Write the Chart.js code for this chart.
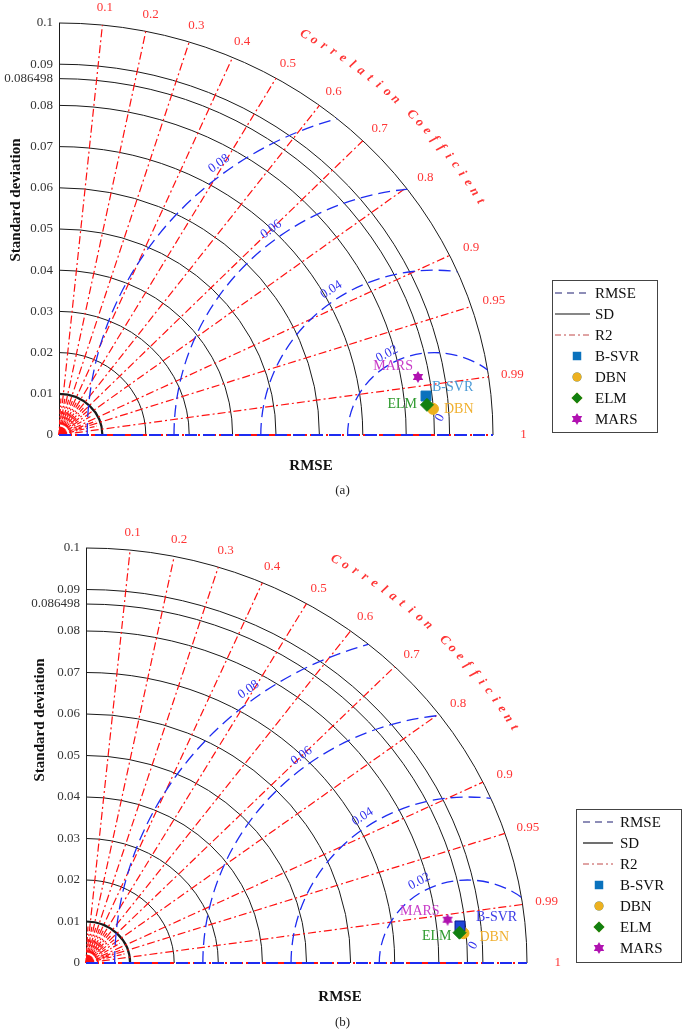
<!DOCTYPE html>
<html>
<head>
<meta charset="utf-8">
<script src="https://cdn.jsdelivr.net/npm/chart.js@4.4.1/dist/chart.umd.min.js"></script>
<style>
  body { margin: 0; background: #fff; width: 685px; height: 1036px; position: relative; overflow: hidden; }
  canvas { position: absolute; left: 0; }
  .cap { position: absolute; left: 0; width: 685px; text-align: center; font: 13px "Liberation Serif", serif; color: #222; }
</style>
</head>
<body>
<canvas id="taylorA" width="685" height="500" style="top:0"></canvas>
<div class="cap" style="top:482px">(a)</div>
<canvas id="taylorB" width="685" height="536" style="top:500px"></canvas>
<div class="cap" style="top:1014px">(b)</div>
<script>
// ---- data ----
const refSD = 0.086498;
const sdLevels = [0.01, 0.02, 0.03, 0.04, 0.05, 0.06, 0.07, 0.08, 0.09, 0.1, refSD];
const yTickValues = [0, 0.01, 0.02, 0.03, 0.04, 0.05, 0.06, 0.07, 0.08, 0.086498, 0.09, 0.1];
const yTickLabels = ['0', '0.01', '0.02', '0.03', '0.04', '0.05', '0.06', '0.07', '0.08', '0.086498', '0.09', '0.1'];
const corrLines = [0.1, 0.2, 0.3, 0.4, 0.5, 0.6, 0.7, 0.8, 0.9, 0.95, 0.99];
const corrLabelValues = [0.1, 0.2, 0.3, 0.4, 0.5, 0.6, 0.7, 0.8, 0.9, 0.95, 0.99, 1];
const corrLabels = ['0.1', '0.2', '0.3', '0.4', '0.5', '0.6', '0.7', '0.8', '0.9', '0.95', '0.99', '1'];
const minorCorr = [0.05, 0.15, 0.25, 0.35, 0.45, 0.55, 0.65, 0.75, 0.85, 0.93, 0.97];
const rmseLevels = [0.02, 0.04, 0.06, 0.08];
const rmseLabels = ['0.02', '0.04', '0.06', '0.08'];
const models = ['B-SVR', 'DBN', 'ELM', 'MARS'];
// panel (a)
const sdA = [0.08509, 0.08641, 0.08510, 0.08391];
const corrA = [0.9938, 0.9973, 0.9963, 0.9858];
// panel (b)
const sdB = [0.08527, 0.08590, 0.08501, 0.08266];
const corrB = [0.9945, 0.9965, 0.9963, 0.9920];

const serif = '"Liberation Serif", "Times New Roman", serif';
const DEG = Math.PI / 180;

function hexagram(color, size) {
  const c = document.createElement('canvas');
  c.width = c.height = size;
  const g = c.getContext('2d');
  const r = size / 2;
  g.fillStyle = color;
  [0, Math.PI].forEach(off => {
    g.beginPath();
    for (let k = 0; k < 3; k++) {
      const a = off - Math.PI / 2 + k * 2 * Math.PI / 3;
      g.lineTo(r + r * Math.cos(a), r + r * Math.sin(a));
    }
    g.closePath();
    g.fill();
  });
  return c;
}

const styles = {
  'B-SVR': { shape: 'rect', radius: 7, order: 2 },
  'DBN': { shape: 'circle', radius: 5.5, order: 3, color: '#edb120' },
  'ELM': { shape: 'rectRot', radius: 6.5, order: 0, color: '#118011' },
  'MARS': { shape: 'star', radius: 6, order: 1, color: '#b012b0' }
};

function drawMarker(ctx, name, x, y, color) {
  const st = styles[name];
  if (st.shape === 'star') {
    ctx.drawImage(hexagram(color, 12), x - 6, y - 6);
    return;
  }
  Chart.helpers.drawPoint(ctx, { pointStyle: st.shape, radius: st.radius - 1, rotation: 0, borderWidth: 0 }, x, y);
  ctx.fillStyle = color;
  ctx.fill();
}

function taylorPlugin(P) {
  return {
    id: 'taylor',
    beforeDatasetsDraw(chart) {
      const { ctx, scales: { x, y } } = chart;
      const ox = x.getPixelForValue(0), oy = y.getPixelForValue(0);
      const rx = v => x.getPixelForValue(v) - ox;
      const ry = v => oy - y.getPixelForValue(v);
      const pt = (r, c) => [x.getPixelForValue(r * c), y.getPixelForValue(r * Math.sqrt(1 - c * c))];
      ctx.save();
      // SD arcs
      ctx.strokeStyle = '#1a1a1a';
      sdLevels.forEach(s => {
        ctx.lineWidth = s === 0.01 ? 2.2 : 1;
        ctx.beginPath();
        ctx.ellipse(ox, oy, rx(s), ry(s), 0, 1.5 * Math.PI, 2 * Math.PI);
        ctx.stroke();
      });
      // correlation rays
      ctx.strokeStyle = '#ff1010';
      ctx.lineWidth = 1.2;
      ctx.setLineDash([5, 2, 1.5, 2]);
      minorCorr.forEach(c => {
        const p = pt(0.009, c);
        ctx.beginPath(); ctx.moveTo(ox, oy); ctx.lineTo(p[0], p[1]); ctx.stroke();
      });
      ctx.setLineDash([8, 3, 2, 3]);
      corrLines.forEach(c => {
        const p = pt(0.1, c);
        ctx.beginPath(); ctx.moveTo(ox, oy); ctx.lineTo(p[0], p[1]); ctx.stroke();
      });
      ctx.setLineDash([]);
      ctx.fillStyle = '#ff1010';
      ctx.beginPath();
      ctx.moveTo(ox, oy);
      ctx.ellipse(ox, oy, rx(0.0018), ry(0.0018), 0, 1.5 * Math.PI, 2 * Math.PI);
      ctx.closePath();
      ctx.fill();
      // RMSE arcs, clipped to the outer SD circle
      ctx.save();
      ctx.beginPath();
      ctx.moveTo(ox, oy);
      ctx.ellipse(ox, oy, rx(0.1), ry(0.1), 0, 1.5 * Math.PI, 2 * Math.PI);
      ctx.closePath();
      ctx.clip();
      const cx = x.getPixelForValue(refSD);
      ctx.strokeStyle = '#1e2cf0';
      ctx.lineWidth = 1.3;
      ctx.setLineDash([12, 6]);
      rmseLevels.forEach(r => {
        ctx.beginPath();
        ctx.ellipse(cx, oy, rx(r), ry(r), 0, Math.PI, 2 * Math.PI);
        ctx.stroke();
      });
      ctx.restore();
      // bottom axis: R2 = 1 line and dashed blue
      const ex = x.getPixelForValue(0.1);
      ctx.lineWidth = 2;
      ctx.strokeStyle = '#ff1010';
      ctx.setLineDash([8, 3, 2, 3]);
      ctx.beginPath(); ctx.moveTo(ox, oy); ctx.lineTo(ex, oy); ctx.stroke();
      ctx.strokeStyle = '#1e2cf0';
      ctx.setLineDash([12, 6]);
      ctx.beginPath(); ctx.moveTo(ox, oy); ctx.lineTo(ex, oy); ctx.stroke();
      ctx.restore();
    },
    afterDraw(chart) {
      const { ctx, scales: { x, y } } = chart;
      const ox = x.getPixelForValue(0), oy = y.getPixelForValue(0);
      const sx = x.getPixelForValue(1) - ox, sy = oy - y.getPixelForValue(1);
      ctx.save();
      ctx.textAlign = 'center';
      ctx.textBaseline = 'middle';
      // correlation labels
      ctx.fillStyle = '#ff3535';
      ctx.font = '13px ' + serif;
      corrLabelValues.forEach((c, i) => {
        const rX = c === 1 ? 0.107 : 0.1055, rY = 0.1042;
        ctx.fillText(corrLabels[i], ox + rX * c * sx, oy - rY * Math.sqrt(1 - c * c) * sy);
      });
      // curved title
      ctx.font = 'italic bold 13px ' + serif;
      const title = 'Correlation Coefficient';
      for (let i = 0; i < title.length; i++) {
        const th = (59.8 - i * 1.34) * DEG;
        const px = ox + 0.1125 * Math.cos(th) * sx, py = oy - 0.1125 * Math.sin(th) * sy;
        ctx.save();
        ctx.translate(px, py);
        ctx.rotate(Math.PI / 2 - th);
        ctx.fillText(title[i], 0, 0);
        ctx.restore();
      }
      // RMSE labels
      ctx.fillStyle = '#3030ee';
      ctx.font = '13px ' + serif;
      const cx = x.getPixelForValue(refSD);
      rmseLevels.forEach((r, i) => {
        const th = (r === 0.02 ? 119 : r === 0.04 ? 124 : 127) * DEG;
        const rr = r + 0.0025;
        const px = cx + rr * Math.cos(th) * sx, py = oy - rr * Math.sin(th) * sy;
        ctx.save();
        ctx.translate(px, py);
        ctx.rotate(Math.atan2(Math.cos(th) * sy, Math.sin(th) * sx));
        ctx.fillText(rmseLabels[i], 0, 0);
        ctx.restore();
      });
      ctx.save();
      ctx.translate(cx + 0.0013 * sx, oy - 0.0042 * sy);
      ctx.rotate(-62 * DEG);
      ctx.fillText('0', 0, 0);
      ctx.restore();
      // axis titles
      ctx.fillStyle = '#111';
      ctx.font = 'bold 15px ' + serif;
      ctx.fillText('RMSE', P.xTitle[0], P.xTitle[1]);
      ctx.save();
      ctx.translate(P.yTitle[0], P.yTitle[1]);
      ctx.rotate(-Math.PI / 2);
      ctx.fillText('Standard deviation', 0, 0);
      ctx.restore();
      // point labels
      ctx.font = '14px ' + serif;
      chart.data.datasets.forEach((ds, i) => {
        const el = chart.getDatasetMeta(i).data[0];
        const o = P.labels[ds.label];
        ctx.fillStyle = o.color;
        ctx.textAlign = o.align;
        ctx.fillText(ds.label, el.x + o.dx, el.y + o.dy);
      });
      // legend
      const L = P.legend;
      ctx.setLineDash([]);
      ctx.strokeStyle = '#444';
      ctx.lineWidth = 1;
      ctx.fillStyle = '#fff';
      ctx.fillRect(L.box[0], L.box[1], L.box[2], L.box[3]);
      ctx.strokeRect(L.box[0] + 0.5, L.box[1] + 0.5, L.box[2], L.box[3]);
      const rowY = k => L.row0 + k * L.dy;
      ctx.lineWidth = 1.2;
      ctx.strokeStyle = '#1c1c70'; ctx.setLineDash([7, 5]);
      ctx.beginPath(); ctx.moveTo(L.lineX[0], rowY(0)); ctx.lineTo(L.lineX[1], rowY(0)); ctx.stroke();
      ctx.strokeStyle = '#111'; ctx.setLineDash([]);
      ctx.beginPath(); ctx.moveTo(L.lineX[0], rowY(1)); ctx.lineTo(L.lineX[1], rowY(1)); ctx.stroke();
      ctx.strokeStyle = '#c04848'; ctx.lineWidth = 1; ctx.setLineDash([6, 3, 2, 3]);
      ctx.beginPath(); ctx.moveTo(L.lineX[0], rowY(2)); ctx.lineTo(L.lineX[1], rowY(2)); ctx.stroke();
      ctx.setLineDash([]);
      models.forEach((m, i) => {
        drawMarker(ctx, m, L.markX, rowY(3 + i), m === 'B-SVR' ? '#0a72bd' : styles[m].color);
      });
      ctx.fillStyle = '#111';
      ctx.font = '15px ' + serif;
      ctx.textAlign = 'left';
      ['RMSE', 'SD', 'R2'].concat(models).forEach((t, k) => ctx.fillText(t, L.textX, rowY(k) + 1));
      ctx.restore();
    }
  };
}

function makeChart(id, sd, corr, P) {
  const datasets = models.map((m, i) => ({
    label: m,
    data: [{ x: sd[i] * corr[i], y: sd[i] * Math.sqrt(1 - corr[i] * corr[i]) }],
    pointStyle: styles[m].shape === 'star' ? hexagram(styles[m].color, 12) : styles[m].shape,
    pointRadius: styles[m].radius,
    backgroundColor: m === 'B-SVR' ? P.svrColor : styles[m].color,
    borderColor: m === 'B-SVR' ? P.svrBorder : styles[m].color,
    borderWidth: 1,
    order: styles[m].order
  }));
  return new Chart(document.getElementById(id), {
    type: 'scatter',
    data: { datasets: datasets },
    options: {
      responsive: false,
      animation: false,
      layout: { padding: { top: P.pad[0], right: P.pad[1], bottom: P.pad[2], left: 0 } },
      plugins: { legend: { display: false }, tooltip: { enabled: false } },
      scales: {
        x: { type: 'linear', min: 0, max: 0.1, display: false },
        y: {
          type: 'linear', min: 0, max: 0.1,
          afterBuildTicks: s => { s.ticks = yTickValues.map(v => ({ value: v })); },
          afterFit: s => { s.width = P.axisW; },
          grid: { display: false, drawTicks: false },
          border: { display: true, color: '#1a1a1a', width: 1 },
          ticks: {
            autoSkip: false, padding: 6, color: '#333',
            font: { family: serif, size: 13 },
            callback: (v, i) => yTickLabels[i]
          }
        }
      }
    },
    plugins: [taylorPlugin(P)]
  });
}

makeChart('taylorA', sdA, corrA, {
  pad: [23, 192, 65], axisW: 59,
  svrColor: '#0a72bd', svrBorder: '#0a72bd',
  xTitle: [311, 466], yTitle: [16, 200],
  labels: {
    'B-SVR': { dx: 6, dy: -9, align: 'left', color: '#4a9ad6' },
    'DBN': { dx: 11, dy: 0, align: 'left', color: '#f0b030' },
    'ELM': { dx: -10, dy: -1, align: 'right', color: '#2e9a2e' },
    'MARS': { dx: -5, dy: -11, align: 'right', color: '#c83cc8' }
  },
  legend: { box: [552, 280, 105, 152], row0: 293, dy: 21, lineX: [555, 590], markX: 577, textX: 595 }
});

makeChart('taylorB', sdB, corrB, {
  pad: [48, 158, 73], axisW: 86,
  svrColor: '#1f45d8', svrBorder: '#0a1a90',
  xTitle: [340, 497], yTitle: [40, 220],
  labels: {
    'B-SVR': { dx: 16, dy: -9, align: 'left', color: '#3c3ce6' },
    'DBN': { dx: 16, dy: 4, align: 'left', color: '#f0b030' },
    'ELM': { dx: -8, dy: 4, align: 'right', color: '#2e9a2e' },
    'MARS': { dx: -8, dy: -8, align: 'right', color: '#c83cc8' }
  },
  legend: { box: [576, 309, 105, 153], row0: 322, dy: 21, lineX: [583, 613], markX: 599, textX: 620 }
});
</script>
</body>
</html>
